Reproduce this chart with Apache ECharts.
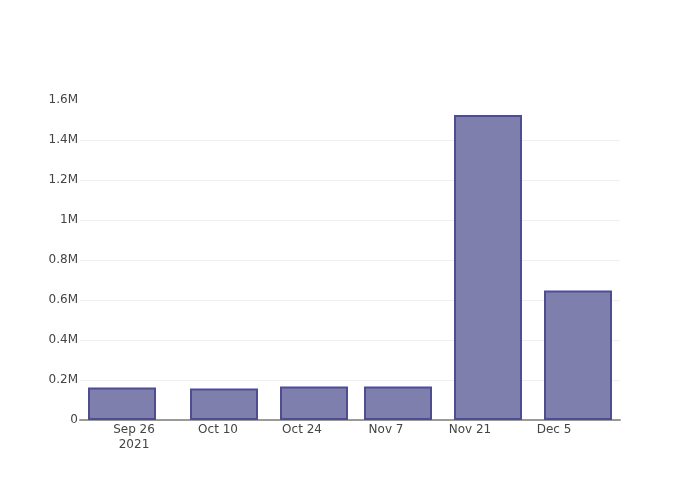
<!DOCTYPE html>
<html>
<head>
<meta charset="utf-8">
<script src="https://cdn.jsdelivr.net/npm/echarts@6/dist/echarts.min.js"></script>
<style>
html,body{margin:0;padding:0;background:#fff;}
#chart{width:700px;height:500px;}
</style>
</head>
<body>
<div id="chart"></div>
<script>
// Data
const barDates = ['2021-09-24', '2021-10-11', '2021-10-26', '2021-11-09', '2021-11-24', '2021-12-09'];
const barValues = [162000, 157000, 167000, 167000, 1525000, 648000];
const xTickDates = ['2021-09-26', '2021-10-10', '2021-10-24', '2021-11-07', '2021-11-21', '2021-12-05'];
const xTickLabels = ['Sep 26\n2021', 'Oct 10', 'Oct 24', 'Nov 7', 'Nov 21', 'Dec 5'];
const yTickValues = [0, 200000, 400000, 600000, 800000, 1000000, 1200000, 1400000, 1600000];
const yTickLabels = ['0', '0.2M', '0.4M', '0.6M', '0.8M', '1M', '1.2M', '1.4M', '1.6M'];
const xRange = ['2021-09-17', '2021-12-16'];

const DAY = 86400000;
function ts(s) { const p = s.split('-').map(Number); return Date.UTC(p[0], p[1] - 1, p[2]); }
const xLabelMap = {};
xTickDates.forEach((d, i) => { xLabelMap[ts(d)] = xTickLabels[i]; });
const yLabelMap = {};
yTickValues.forEach((v, i) => { yLabelMap[v] = yTickLabels[i]; });

const chart = echarts.init(document.getElementById('chart'));
chart.setOption({
  animation: false,
  backgroundColor: '#fff',
  textStyle: { fontFamily: 'DejaVu Sans' },
  grid: { left: 80, right: 80, top: 100, bottom: 80, containLabel: false },
  xAxis: {
    type: 'value',
    min: ts(xRange[0]),
    max: ts(xRange[1]),
    interval: DAY,
    axisLine: { show: true, lineStyle: { color: '#9a9a9a', width: 2 } },
    axisTick: { show: false },
    splitLine: { show: false },
    axisLabel: {
      margin: 2,
      color: '#444',
      fontSize: 12,
      fontFamily: 'DejaVu Sans',
      lineHeight: 15,
      showMinLabel: true,
      showMaxLabel: true,
      formatter: v => xLabelMap[v] || ''
    }
  },
  yAxis: {
    type: 'value',
    min: 0,
    max: 1600000,
    interval: 200000,
    axisLine: { show: false },
    axisTick: { show: false },
    splitLine: { show: true, showMinLine: false, showMaxLine: false, lineStyle: { color: '#eeeeee', width: 1 } },
    axisLabel: {
      margin: 2,
      color: '#444',
      fontSize: 12,
      fontFamily: 'DejaVu Sans',
      padding: [4, 0, 0, 0],
      formatter: v => (yLabelMap[v] !== undefined ? yLabelMap[v] : '')
    }
  },
  series: [{
    type: 'bar',
    data: barDates.map((d, i) => [ts(d), barValues[i]]),
    barWidth: 68,
    itemStyle: {
      color: '#7f7fae',
      borderColor: '#4d4d8f',
      borderWidth: 2
    }
  }]
});
</script>
</body>
</html>
